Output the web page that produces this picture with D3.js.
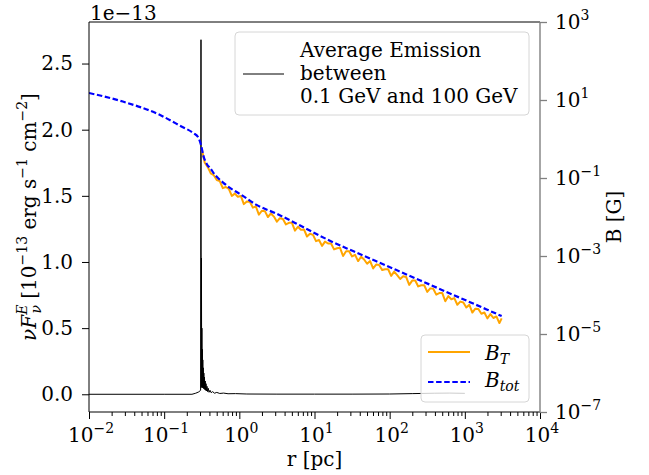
<!DOCTYPE html>
<html>
<head>
<meta charset="utf-8">
<script src="https://cdn.jsdelivr.net/npm/d3@7"></script>
<style>
  body { margin: 0; background: #fff; }
  svg { font-family: "DejaVu Serif", serif; }
</style>
</head>
<body>
<div id="chart"></div>
<script>
// average emission, r as log10(r/pc), flux in units of 1e-13
let emissionLogR = [-2, -1, -0.63, -0.58, -0.54, -0.515, -0.510, -0.507, -0.504, -0.501, -0.498, -0.495,
  -0.492, -0.489, -0.486, -0.483, -0.480, -0.476, -0.472, -0.468, -0.464, -0.459, -0.454, -0.449,
  -0.443, -0.437, -0.430, -0.422, -0.413, -0.403, -0.390, -0.375, -0.355, -0.33, -0.30, -0.26,
  -0.21, -0.15, -0.05, 0.1, 0.5, 1.0, 1.5, 2.0, 2.3, 2.6, 2.8, 3.0];
let emissionFlux = [0, 0, 0, 0.008, 0.018, 0.03, 2.68, 0.05, 1.03, 0.06, 0.50, 0.06,
  0.34, 0.05, 0.26, 0.05, 0.20, 0.045, 0.16, 0.04, 0.13, 0.035, 0.10, 0.03,
  0.08, 0.025, 0.06, 0.02, 0.045, 0.015, 0.03, 0.012, 0.02, 0.008, 0.014, 0.006,
  0.009, 0.004, 0.005, 0.002, 0.001, 0.001, 0.001, 0.002, 0.005, 0.008, 0.009, 0.007];

// total field B_tot, log10(r/pc) and log10(B/G)
let btotLogR = [-2, -1.55, -1.06, -0.77, -0.61, -0.55, -0.51, -0.48, -0.45, -0.42, -0.39, -0.34,
  -0.30, -0.22, -0.12, 0, 0.23, 0.50, 0.81, 1.07, 1.25, 1.52, 1.96, 2.40, 2.85, 3.29, 3.49];
let btotLogB = [1.18, 0.96, 0.62, 0.32, 0.15, 0.05, -0.15, -0.42, -0.58, -0.68, -0.74, -0.88,
  -0.97, -1.11, -1.26, -1.40, -1.69, -1.92, -2.22, -2.48, -2.65, -2.88, -3.25, -3.62, -4.00, -4.37, -4.54];

// turbulent field B_T
let btLogR = [-0.50, -0.46, -0.42, -0.38, -0.34, -0.30, -0.26, -0.22, -0.18, -0.14,
  -0.10, -0.06, -0.02, 0.02, 0.06, 0.10, 0.14, 0.18, 0.22, 0.26,
  0.30, 0.34, 0.38, 0.42, 0.46, 0.50, 0.54, 0.58, 0.62, 0.66,
  0.70, 0.74, 0.78, 0.82, 0.86, 0.90, 0.94, 0.98, 1.02, 1.06,
  1.10, 1.14, 1.18, 1.22, 1.26, 1.30, 1.34, 1.38, 1.42, 1.46,
  1.50, 1.54, 1.58, 1.62, 1.66, 1.70, 1.74, 1.78, 1.82, 1.86,
  1.90, 1.94, 1.98, 2.02, 2.06, 2.10, 2.14, 2.18, 2.22, 2.26,
  2.30, 2.34, 2.38, 2.42, 2.46, 2.50, 2.54, 2.58, 2.62, 2.66,
  2.70, 2.74, 2.78, 2.82, 2.86, 2.90, 2.94, 2.98, 3.02, 3.06,
  3.10, 3.14, 3.18, 3.22, 3.26, 3.30, 3.34, 3.38, 3.42, 3.46, 3.49];
let btLogB = [-0.25, -0.61, -0.72, -0.88, -0.93, -1.05, -1.08, -1.26, -1.23, -1.28,
  -1.46, -1.40, -1.48, -1.46, -1.67, -1.60, -1.61, -1.76, -1.73, -1.94,
  -1.84, -1.85, -2.00, -1.91, -1.99, -2.12, -2.03, -2.05, -2.19, -2.15,
  -2.15, -2.35, -2.25, -2.33, -2.32, -2.50, -2.43, -2.46, -2.62, -2.59,
  -2.74, -2.63, -2.68, -2.68, -2.83, -2.80, -2.79, -3.00, -2.88, -2.88,
  -3.01, -2.97, -3.13, -3.02, -3.09, -3.20, -3.13, -3.32, -3.22, -3.23,
  -3.36, -3.34, -3.34, -3.51, -3.40, -3.49, -3.59, -3.52, -3.54, -3.74,
  -3.63, -3.63, -3.78, -3.75, -3.75, -3.92, -3.83, -3.84, -3.99, -3.95,
  -3.95, -4.16, -4.03, -4.11, -4.08, -4.25, -4.17, -4.19, -4.32, -4.25,
  -4.45, -4.35, -4.36, -4.48, -4.45, -4.60, -4.49, -4.59, -4.55, -4.72, -4.60];

let xTickExp = [-2, -1, 0, 1, 2, 3, 4];
let yLeftTicks = [0, 0.5, 1.0, 1.5, 2.0, 2.5];
let yRightTickExp = [-7, -5, -3, -1, 1, 3];
let legendTopLines = ["Average Emission", "between", "0.1 GeV and 100 GeV"];

let width = 649, height = 475;
let margin = {top: 22, right: 109, bottom: 63, left: 89};

let svg = d3.select("#chart").append("svg")
  .attr("width", width)
  .attr("height", height);

let x = d3.scaleLog().domain([1e-2, 1e4]).range([margin.left, width - margin.right]);
let yL = d3.scaleLinear().domain([-0.134, 2.814]).range([height - margin.bottom, margin.top]);
let yR = d3.scaleLog().domain([1e-7, 1e3]).range([height - margin.bottom, margin.top]);

svg.append("clipPath").attr("id", "plot-clip")
  .append("rect")
  .attr("x", margin.left).attr("y", margin.top)
  .attr("width", width - margin.left - margin.right)
  .attr("height", height - margin.top - margin.bottom);

// emission line (left axis)
let emission = emissionLogR.map((v, i) => ({r: Math.pow(10, v), f: emissionFlux[i]}));
svg.append("path")
  .datum(emission)
  .attr("clip-path", "url(#plot-clip)")
  .attr("fill", "none")
  .attr("stroke", "#000")
  .attr("stroke-width", 1)
  .attr("d", d3.line().x(d => x(d.r)).y(d => yL(d.f)));

// legend for the emission line
let leg1 = svg.append("g");
leg1.append("rect")
  .attr("x", 235).attr("y", 32).attr("width", 294).attr("height", 83).attr("rx", 4)
  .attr("fill", "#fff").attr("fill-opacity", 0.8)
  .attr("stroke", "#d6d6d6");
leg1.append("line")
  .attr("x1", 243).attr("x2", 284).attr("y1", 74).attr("y2", 74)
  .attr("stroke", "#000").attr("stroke-width", 1);
leg1.selectAll("text.l").data(legendTopLines).enter().append("text")
  .attr("x", 300)
  .attr("y", (d, i) => 57 + i * 23)
  .attr("font-size", 20)
  .text(d => d);

// field lines (right axis)
let bt = btLogR.map((v, i) => ({r: Math.pow(10, v), b: Math.pow(10, btLogB[i])}));
let btot = btotLogR.map((v, i) => ({r: Math.pow(10, v), b: Math.pow(10, btotLogB[i])}));
let bLine = d3.line().x(d => x(d.r)).y(d => yR(d.b));

svg.append("path")
  .datum(bt)
  .attr("clip-path", "url(#plot-clip)")
  .attr("fill", "none")
  .attr("stroke", "orange")
  .attr("stroke-width", 2)
  .attr("stroke-linejoin", "round")
  .attr("d", bLine);

svg.append("path")
  .datum(btot)
  .attr("clip-path", "url(#plot-clip)")
  .attr("fill", "none")
  .attr("stroke", "blue")
  .attr("stroke-width", 2.2)
  .attr("stroke-dasharray", "5.5,2.6")
  .attr("d", bLine.curve(d3.curveMonotoneX));

// axes
svg.append("g")
  .attr("transform", `translate(0,${height - margin.bottom})`)
  .call(d3.axisBottom(x).tickValues(xTickExp.map(e => Math.pow(10, e))).tickSize(7).tickSizeOuter(0).tickFormat(""));
let minor = [];
for (let e = -2; e < 4; e++) for (let k = 2; k < 10; k++) minor.push(k * Math.pow(10, e));
svg.append("g")
  .attr("transform", `translate(0,${height - margin.bottom})`)
  .call(d3.axisBottom(x).tickValues(minor).tickSize(4).tickSizeOuter(0).tickFormat(""));

svg.append("g")
  .attr("transform", `translate(${margin.left},0)`)
  .call(d3.axisLeft(yL).tickValues(yLeftTicks).tickSize(7).tickSizeOuter(0).tickPadding(9).tickFormat(d3.format(".1f")))
  .selectAll("text").attr("font-size", 20).attr("font-family", "DejaVu Serif").attr("fill", "#000");

let rightAxis = svg.append("g")
  .attr("transform", `translate(${width - margin.right},0)`)
  .call(d3.axisRight(yR).tickValues(yRightTickExp.map(e => Math.pow(10, e))).tickSize(7).tickSizeOuter(0).tickFormat(""));
rightAxis.selectAll("line").attr("stroke", "#808080").attr("stroke-width", 1.3);

svg.selectAll(".domain").remove();

// log tick labels with superscripts
function powLabel(sel, exp) {
  sel.append("tspan").text("10");
  sel.append("tspan").attr("font-size", 14).attr("dy", -9).text(exp < 0 ? "\u2212" + (-exp) : exp);
}
xTickExp.forEach(e => {
  let t = svg.append("text")
    .attr("x", x(Math.pow(10, e)) + 2)
    .attr("y", 442)
    .attr("text-anchor", "middle")
    .attr("font-size", 20);
  powLabel(t, e);
});
yRightTickExp.forEach(e => {
  let t = svg.append("text")
    .attr("x", 555)
    .attr("y", yR(Math.pow(10, e)) + 7)
    .attr("font-size", 20);
  powLabel(t, e);
});

// spines
let frame = svg.append("g").attr("fill", "none");
frame.append("path")
  .attr("d", `M${width - margin.right},${margin.top}H${margin.left}V${height - margin.bottom}H${width - margin.right}`)
  .attr("stroke", "#000").attr("stroke-width", 1);
frame.append("line")
  .attr("x1", width - margin.right).attr("x2", width - margin.right)
  .attr("y1", margin.top).attr("y2", height - margin.bottom)
  .attr("stroke", "#808080").attr("stroke-width", 1.4);

// offset text
svg.append("text").attr("x", 90).attr("y", 20).attr("font-size", 20).text("1e\u221213");

// axis labels
svg.append("text")
  .attr("x", (margin.left + width - margin.right) / 2)
  .attr("y", 466)
  .attr("text-anchor", "middle")
  .attr("font-size", 20)
  .text("r [pc]");

let yLab = svg.append("text")
  .attr("transform", `translate(36,${(margin.top + height - margin.bottom) / 2}) rotate(-90)`)
  .attr("text-anchor", "middle")
  .attr("font-size", 20);
yLab.append("tspan").attr("font-style", "italic").text("\u03bdF");
yLab.append("tspan").attr("font-style", "italic").attr("font-size", 14).attr("dy", -9).text("E");
yLab.append("tspan").attr("font-style", "italic").attr("font-size", 14).attr("dx", -9).attr("dy", 14).text("\u03bd");
yLab.append("tspan").attr("dy", -5).text(" [10");
yLab.append("tspan").attr("font-size", 14).attr("dy", -9).text("\u221213");
yLab.append("tspan").attr("dy", 9).text(" erg s");
yLab.append("tspan").attr("font-size", 14).attr("dy", -9).text("\u22121");
yLab.append("tspan").attr("dy", 9).text(" cm");
yLab.append("tspan").attr("font-size", 14).attr("dy", -9).text("\u22122");
yLab.append("tspan").attr("dy", 9).text("]");

svg.append("text")
  .attr("transform", `translate(621,${(margin.top + height - margin.bottom) / 2}) rotate(-90)`)
  .attr("text-anchor", "middle")
  .attr("font-size", 20)
  .text("B [G]");

// legend for the field lines
let leg2 = svg.append("g");
leg2.append("rect")
  .attr("x", 421).attr("y", 335).attr("width", 108).attr("height", 67).attr("rx", 4)
  .attr("fill", "#fff").attr("fill-opacity", 0.8)
  .attr("stroke", "#d6d6d6");
leg2.append("line")
  .attr("x1", 428).attr("x2", 470).attr("y1", 352).attr("y2", 352)
  .attr("stroke", "orange").attr("stroke-width", 2);
leg2.append("line")
  .attr("x1", 428).attr("x2", 470).attr("y1", 382).attr("y2", 382)
  .attr("stroke", "blue").attr("stroke-width", 2.2).attr("stroke-dasharray", "5.5,2.6");
let t1 = leg2.append("text").attr("x", 485).attr("y", 360).attr("font-size", 20).attr("font-style", "italic");
t1.append("tspan").text("B");
t1.append("tspan").attr("font-size", 14).attr("dy", 4).text("T");
let t2 = leg2.append("text").attr("x", 485).attr("y", 387).attr("font-size", 20).attr("font-style", "italic");
t2.append("tspan").text("B");
t2.append("tspan").attr("font-size", 14).attr("dy", 4).text("tot");
</script>
</body>
</html>
